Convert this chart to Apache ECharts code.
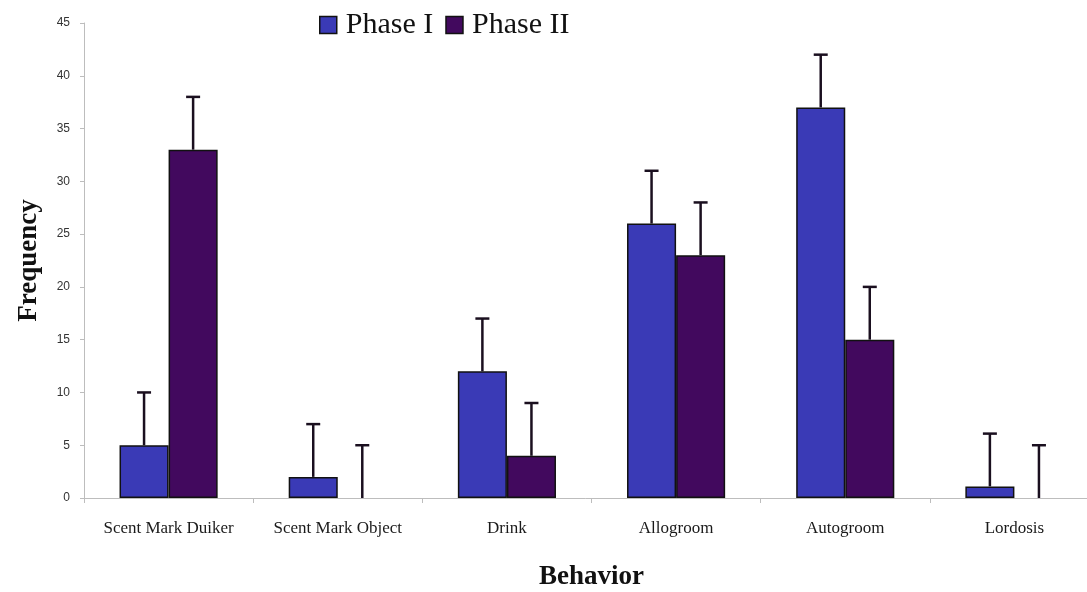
<!DOCTYPE html>
<html>
<head>
<meta charset="utf-8">
<script src="https://cdn.jsdelivr.net/npm/echarts@6/dist/echarts.min.js"></script>
<style>
  html, body { margin: 0; padding: 0; background: #fff; }
  #main { width: 1087px; height: 592px; }
</style>
</head>
<body>
<div id="main"></div>
<script>
  var categorias = ['Scent Mark Duiker', 'Scent Mark Object', 'Drink', 'Allogroom', 'Autogroom', 'Lordosis'];
  var faseUno = [5, 2, 12, 26, 37, 1.1];
  var faseDos = [33, 0, 4, 23, 15, 0];
  // barras de error (solo hacia arriba)
  var errorUno = [5, 5, 5, 5, 5, 5];
  var errorDos = [5, 5, 5, 5, 5, 5];

  var serif = '"Liberation Serif", "Times New Roman", serif';
  var colorUno = '#3a3ab6';
  var colorDos = '#42095e';

  var myChart = echarts.init(document.getElementById('main'));

  // las barras con valor 0 no se dibujan
  function sinCeros(valores) {
    return valores.map(function (v) { return v === 0 ? '-' : v; });
  }

  function errorSerie(valores, errores, lado) {
    var datos = [];
    for (let i = 0; i < valores.length; i++) {
      datos.push([i, valores[i], valores[i] + errores[i]]);
    }
    return {
      type: 'custom',
      z: 5,
      silent: true,
      data: datos,
      renderItem: function (params, api) {
        var banda = api.size([1, 0])[0];
        var ancho = banda * 0.29;
        var base = api.coord([api.value(0), api.value(1)]);
        var arriba = api.coord([api.value(0), api.value(2)]);
        var x = base[0] + lado * ancho / 2;
        var estilo = { stroke: '#1a0f1f', lineWidth: 2.5 };
        return {
          type: 'group',
          children: [
            { type: 'line', shape: { x1: x, y1: base[1], x2: x, y2: arriba[1] }, style: estilo },
            { type: 'line', shape: { x1: x - 7, y1: arriba[1], x2: x + 7, y2: arriba[1] }, style: estilo }
          ]
        };
      }
    };
  }

  option = {
    animation: false,
    grid: { left: 84, right: -12, top: 23, bottom: 94, outerBoundsMode: 'none', containLabel: false },
    legend: {
      top: 5,
      left: 314,
      icon: 'rect',
      itemWidth: 17,
      itemHeight: 17,
      itemGap: 12,
      textStyle: { fontFamily: serif, fontSize: 30, color: '#111', padding: [0, 0, 0, 4] },
      itemStyle: { borderColor: '#111', borderWidth: 1.5 },
      data: ['Phase I', 'Phase II']
    },
    xAxis: {
      type: 'category',
      data: categorias,
      name: 'Behavior',
      nameLocation: 'middle',
      nameGap: 66,
      nameTextStyle: { fontFamily: serif, fontSize: 27, fontWeight: 'bold', color: '#111' },
      axisLine: { lineStyle: { color: '#bdbdbd', width: 1 } },
      axisTick: { show: true, interval: 0, length: 5, lineStyle: { color: '#bdbdbd' } },
      axisLabel: { interval: 0, fontFamily: serif, fontSize: 17, color: '#1a1a1a', margin: 22 }
    },
    yAxis: {
      type: 'value',
      min: 0,
      max: 45,
      interval: 5,
      name: 'Frequency',
      nameLocation: 'middle',
      nameGap: 41,
      nameTextStyle: { fontFamily: serif, fontSize: 27, fontWeight: 'bold', color: '#111' },
      splitLine: { show: false },
      axisLine: { show: true, lineStyle: { color: '#bdbdbd', width: 1 } },
      axisTick: { show: true, length: 4, lineStyle: { color: '#bdbdbd' } },
      axisLabel: { fontFamily: '"Liberation Sans", Arial, sans-serif', fontSize: 12, color: '#333', margin: 14 }
    },
    series: [
      {
        name: 'Phase I',
        type: 'bar',
        data: sinCeros(faseUno),
        barGap: '0%',
        barCategoryGap: '42%',
        itemStyle: { color: colorUno, borderColor: '#111', borderWidth: 1.5 }
      },
      {
        name: 'Phase II',
        type: 'bar',
        data: sinCeros(faseDos),
        itemStyle: { color: colorDos, borderColor: '#111', borderWidth: 1.5 }
      },
      errorSerie(faseUno, errorUno, -1),
      errorSerie(faseDos, errorDos, 1)
    ]
  };

  myChart.setOption(option);
</script>
</body>
</html>
